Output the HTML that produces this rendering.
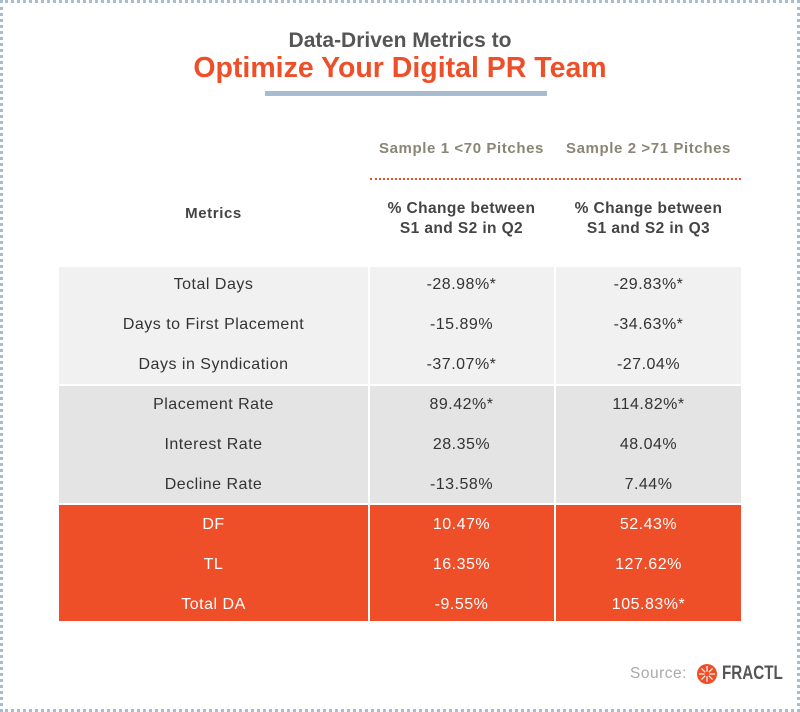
<!DOCTYPE html>
<html><head><meta charset="utf-8"><style>
*{margin:0;padding:0;box-sizing:border-box}
body{width:800px;height:712px;background:#fff;position:relative;overflow:hidden;font-family:"Liberation Sans",sans-serif}
.frame{position:absolute;left:0;top:0;width:800px;height:712px;border:3px dotted #a9bdd0}
.t{position:absolute;white-space:nowrap;text-align:center}
.sec{position:absolute;left:59px;width:682px}
.vl{position:absolute;width:2px;background:#fff}
.cell{position:absolute;text-align:center;font-size:16px;color:#333;letter-spacing:0.5px}
</style></head><body>
<div class="frame"></div>
<div class="t" style="left:0;width:800px;top:29px;font-size:21px;font-weight:bold;color:#555">Data-Driven Metrics to</div>
<div class="t" style="left:0;width:800px;top:52px;font-size:28.5px;font-weight:bold;color:#ee4f28">Optimize Your Digital PR Team</div>
<div style="position:absolute;left:265px;top:91px;width:282px;height:5px;background:#a7bccf"></div>
<div class="t" style="left:368px;width:187px;top:140px;font-size:15px;font-weight:bold;color:#8a8574;letter-spacing:0.6px">Sample 1 &lt;70 Pitches</div>
<div class="t" style="left:555px;width:187px;top:140px;font-size:15px;font-weight:bold;color:#8a8574;letter-spacing:0.6px">Sample 2 &gt;71 Pitches</div>
<div style="position:absolute;left:370px;top:178px;width:371px;border-top:2px dotted #ee4f28"></div>
<div class="t" style="left:59px;width:309px;top:205px;font-size:15px;font-weight:bold;color:#444;letter-spacing:0.6px">Metrics</div>
<div class="t" style="left:368px;width:187px;top:199px;font-size:15.5px;font-weight:bold;color:#444;line-height:20px;letter-spacing:0.4px">% Change between<br>S1 and S2 in Q2</div>
<div class="t" style="left:555px;width:187px;top:199px;font-size:15.5px;font-weight:bold;color:#444;line-height:20px;letter-spacing:0.4px">% Change between<br>S1 and S2 in Q3</div>
<div class="sec" style="top:267px;height:117px;background:#f1f1f1"></div>
<div class="sec" style="top:386px;height:117px;background:#e4e4e4"></div>
<div class="sec" style="top:505px;height:116px;background:#ee4f28"></div>
<div class="vl" style="left:368px;top:267px;height:354px"></div>
<div class="vl" style="left:554px;top:267px;height:354px"></div>
<div id="rows"></div>
<div class="t" style="left:630px;top:665px;font-size:15.5px;color:#aaa;letter-spacing:0.5px">Source:</div>
<svg style="position:absolute;left:696px;top:663px" width="22" height="22" viewBox="0 0 22 22"><circle cx="11" cy="11" r="10" fill="#ee4f28"/><g stroke="#fff" stroke-width="1.2"><line x1="11" y1="3" x2="11" y2="19"/><line x1="3" y1="11" x2="19" y2="11"/><line x1="5.5" y1="5.5" x2="16.5" y2="16.5"/><line x1="16.5" y1="5.5" x2="5.5" y2="16.5"/></g><circle cx="11" cy="11" r="2.5" fill="#ee4f28"/></svg>
<div class="t" style="left:722px;top:663px;font-size:19px;font-weight:bold;color:#555;transform:scaleX(0.8);transform-origin:left">FRACTL</div>
<script>
var d=[["Total Days","-28.98%*","-29.83%*"],["Days to First Placement","-15.89%","-34.63%*"],["Days in Syndication","-37.07%*","-27.04%"],["Placement Rate","89.42%*","114.82%*"],["Interest Rate","28.35%","48.04%"],["Decline Rate","-13.58%","7.44%"],["DF","10.47%","52.43%"],["TL","16.35%","127.62%"],["Total DA","-9.55%","105.83%*"]];
var h="";d.forEach(function(r,i){var y=276+i*40;var c=i>=6?"#fff":"#333";
h+='<div class="cell" style="left:59px;width:309px;top:'+y+'px;color:'+c+'">'+r[0]+'</div>';
h+='<div class="cell" style="left:368px;width:187px;top:'+y+'px;color:'+c+'">'+r[1]+'</div>';
h+='<div class="cell" style="left:555px;width:187px;top:'+y+'px;color:'+c+'">'+r[2]+'</div>';});
document.getElementById("rows").innerHTML=h;
</script>
</body></html>
